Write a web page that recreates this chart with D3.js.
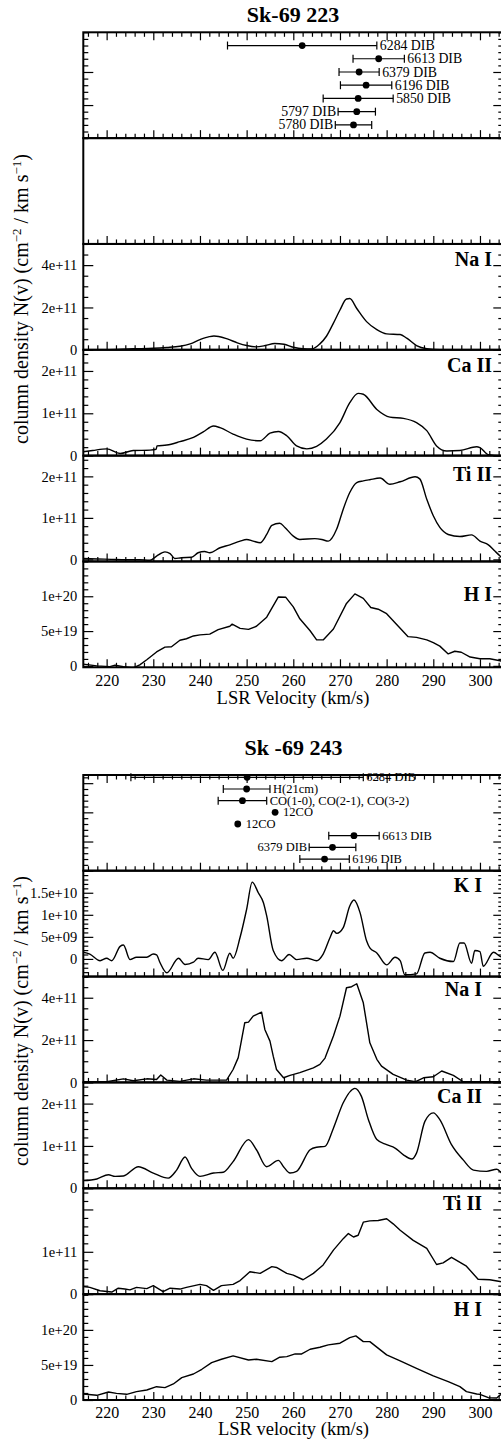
<!DOCTYPE html>
<html><head><meta charset="utf-8">
<script src="https://cdn.jsdelivr.net/npm/d3@7"></script>
<style>
html,body{margin:0;padding:0;background:#fff;}
svg{display:block;}
text{font-family:"Liberation Serif","Times New Roman",serif;fill:#000;}
</style></head><body>
<svg id="c" width="501" height="1443"></svg>
<script>
// ================= DATA =================
const velDomain = [215, 305];
const velTicks = [220, 230, 240, 250, 260, 270, 280, 290, 300];
const velTickLabels = ["220", "230", "240", "250", "260", "270", "280", "290", "300"];
const chartTitles = ["Sk-69 223", "Sk -69 243"];
const xTitles = ["LSR Velocity (km/s)", "LSR velocity (km/s)"];
const yTitleText = "column density N(v) (cm";

// Sk-69 223 DIB velocities (km/s)
const dibA_labels = ["6284 DIB", "6613 DIB", "6379 DIB", "6196 DIB", "5850 DIB", "5797 DIB", "5780 DIB"];
const dibA_row = [7, 6, 5, 4, 3, 2, 1];
const dibA_vel = [261.9, 278.3, 274.1, 275.6, 273.9, 273.6, 272.9];
const dibA_err = [16, 5.5, 4.3, 5.5, 7.5, 4, 3.9];
const dibA_side = ["r", "r", "r", "r", "r", "l", "l"];

// Sk -69 243 DIB / reference velocities
const dibB_labels = ["6284 DIB", "H(21cm)", "CO(1-0), CO(2-1), CO(3-2)", "12CO", "12CO", "6613 DIB", "6379 DIB", "6196 DIB"];
const dibB_row = [8, 7, 6, 5, 4, 3, 2, 1];
const dibB_vel = [250.1, 250.0, 249.1, 256.1, 248.1, 273.0, 268.4, 266.7];
const dibB_err = [24.9, 5, 5.2, 0, 0, 5.4, 5, 5.3];
const dibB_side = ["r", "r", "r", "r", "r", "r", "l", "r"];

// ---- Sk-69 223 profiles: [velocity km/s, N(v)] ----
// Na I, units 1e11
const naA_e11 = [[215,0],[220,0.01],[225.7,0.05],[230,0.07],[232.9,0.11],[235.7,0.17],[237.9,0.28],[240,0.48],[242,0.62],[243,0.65],[244,0.63],[246,0.5],[248,0.33],[250,0.2],[252,0.14],[254,0.2],[256,0.3],[258,0.26],[260,0.12],[262,0.05],[264,0.04],[265.7,0.28],[267.1,0.64],[268.6,1.26],[270,1.88],[271.4,2.4],[272.1,2.42],[273.6,1.95],[275.7,1.33],[277.9,0.95],[280,0.75],[282.9,0.72],[284.3,0.55],[286.4,0.2],[288.6,0.05],[291.4,0],[300,0],[305,0]];
// Ca II, units 1e11
const caA_e11 = [[215,0.09],[217,0.12],[220,0.16],[222.9,0.05],[225.7,0.12],[229.3,0.13],[230.6,0.15],[230.8,0.23],[232.9,0.25],[235.7,0.33],[238.6,0.43],[240.7,0.56],[242.9,0.7],[244.3,0.66],[247.1,0.51],[250,0.39],[252.9,0.35],[255,0.53],[256.8,0.57],[258.6,0.47],[260.7,0.23],[262.9,0.16],[265,0.22],[267.1,0.39],[270,0.78],[272.1,1.25],[273.9,1.47],[275,1.45],[277.9,1.09],[280.7,0.91],[283.6,0.88],[286.4,0.78],[288.6,0.59],[290.7,0.23],[292.9,0.11],[295.7,0.12],[299.3,0.21],[300,0.19],[301.8,0.02],[304.3,0],[305,0]];
// Ti II, units 1e11
const tiA_e11 = [[215,0.02],[218,0.01],[221,0],[224,-0.01],[227,-0.01],[229.3,-0.02],[230.7,0.08],[232.5,0.18],[233.6,0.14],[234.6,0.02],[236,0.04],[238.2,0.05],[239.6,0.16],[241,0.19],[242.1,0.16],[244.3,0.28],[246.4,0.35],[248.6,0.44],[250,0.48],[251.4,0.44],[252.9,0.4],[254.3,0.6],[255.4,0.82],[257.1,0.87],[258.2,0.77],[260,0.56],[261.4,0.48],[264.6,0.5],[266.1,0.48],[267.5,0.44],[269.3,0.73],[270.7,1.21],[272.1,1.61],[273.6,1.85],[275,1.89],[276.4,1.92],[278.6,1.96],[280.7,1.81],[282.9,1.87],[286.1,1.99],[287.1,1.94],[288.6,1.45],[290,1.05],[291.4,0.77],[293.2,0.6],[295.7,0.55],[298.2,0.59],[300,0.44],[301.8,0.35],[303.2,0.2],[304.3,0.08],[305,0]];
// H I, units 1e19
const hiA_e19 = [[215,0.25],[217.9,0],[220.7,-0.1],[221.8,0.1],[223.6,-0.1],[225.7,-0.3],[227.1,0.15],[228.6,0.88],[230.7,2.0],[232.5,2.7],[233.9,2.75],[235.7,3.68],[237.1,3.9],[238.6,4.3],[240,4.46],[242.1,4.56],[243.9,5.2],[246.4,5.69],[246.9,6.0],[248.6,5.39],[250.4,5.25],[252.1,5.69],[254.3,7.0],[256.8,9.9],[258.4,9.85],[260,8.48],[261.4,6.76],[263.6,5.05],[265,3.73],[266.4,3.73],[268.6,5.3],[271.4,8.97],[273.2,10.34],[275,9.7],[276.6,8.38],[278.2,8.14],[280,7.5],[282.5,5.69],[284.6,4.2],[286.4,4.1],[288.6,3.73],[290,3.33],[291.4,2.84],[293.2,1.72],[294.6,2.1],[296,1.96],[297.9,1.27],[300,1.03],[302.1,1.03],[304.3,0.74],[305,0.6]];

// ---- Sk -69 243 profiles ----
// K I, units 1e9
const kB_e9 = [[215,1.5],[216.4,1.1],[218.6,-0.4],[220,0.15],[221.1,-0.4],[222.9,2.85],[223.6,3.15],[225,-0.15],[226.4,0.37],[228.6,0.37],[230,1.1],[230.7,0.9],[231.4,-0.75],[232.9,-3.15],[235.4,0.15],[236.8,-1.27],[238.6,-0.75],[239.6,0.15],[241.8,-0.15],[243.2,1.5],[244.9,-2.6],[246.4,1.27],[247.1,0.15],[248.6,4.9],[250,11.25],[251.2,17.4],[252.5,15],[253.6,12.75],[254.3,9.75],[255.7,1.9],[257.5,-0.4],[259.1,1.0],[260.7,-0.15],[262.9,0.15],[265,-0.4],[266.4,1.1],[267.9,4.9],[268.6,6.4],[269.3,5.8],[270.7,7.1],[272.1,12.0],[273,13.35],[274.3,10.5],[275.7,4.1],[276.4,2.5],[277.9,1.35],[280,-1.35],[281.8,0.37],[282.9,-0.4],[283.9,-3.6],[286.4,-3.4],[288.2,1.35],[289.3,1.5],[291.4,0.15],[294.3,-0.6],[295.7,3.6],[296.6,3.6],[298.2,-1],[298.9,1.9],[300,1.65],[300.7,-1.65],[302.9,1.5],[304.3,0.6],[305,0.3]];
// Na I, units 1e11
const naB_e11 = [[215,0.03],[220,0.03],[223.6,0.17],[225.7,0.08],[228.6,0.17],[230.7,0.14],[231.6,0.35],[232.9,0.11],[235.7,0.05],[238.6,0.17],[241.4,0.11],[245.7,0.11],[247.1,0.61],[248.2,1.17],[248.9,2.0],[249.6,2.82],[250.4,2.85],[251.4,3.13],[253.2,3.32],[253.9,2.5],[255,1.95],[255.7,1.24],[256.4,0.61],[257.9,0.22],[259.3,0.33],[261.4,0.46],[264.3,0.69],[265.7,0.85],[266.8,1.15],[268.6,2.19],[270,3.13],[271.4,4.47],[272.5,4.52],[273.6,4.66],[275,3.76],[276.4,1.87],[277.9,1.09],[278.9,0.77],[281.4,0.38],[284.3,0.11],[286.1,0.03],[287.9,0.22],[290,0.27],[291.8,0.54],[294.3,0.33],[296.4,0.03],[300,0.03],[305,0.03]];
// Ca II, units 1e11
const caB_e11 = [[215,0.18],[217.9,0.22],[220.4,0.32],[221.8,0.28],[223.6,0.29],[226.8,0.51],[230,0.36],[233.2,0.24],[235,0.43],[236.8,0.74],[238.2,0.47],[240,0.28],[242.9,0.36],[245,0.38],[247.1,0.63],[250.4,1.15],[252.1,0.91],[254.3,0.51],[256.8,0.66],[257.9,0.51],[259.3,0.36],[260.7,0.4],[263.6,0.91],[265,0.97],[266.8,0.99],[268.6,1.42],[270.7,2.02],[273.2,2.36],[274.6,2.17],[276.1,1.62],[277.9,1.15],[280,1.03],[281.8,0.95],[283.6,0.79],[285.4,0.69],[286.4,0.83],[288.2,1.58],[290,1.78],[291.4,1.62],[293.9,1.03],[296.4,0.67],[298.6,0.43],[301.4,0.4],[303.6,0.45],[305,0.3]];
// Ti II, units 1e11
const tiB_e11 = [[215,0.18],[216.4,0.16],[218.6,0.08],[221.1,0.05],[222.5,0.14],[223.9,0.12],[225,0.1],[226.4,0.16],[228.6,0.13],[230,0.2],[232.1,0.06],[233.6,0.14],[235.7,0.12],[237.1,0.16],[240,0.23],[241.4,0.2],[242.9,0.09],[244.6,0.2],[247.1,0.23],[248.6,0.32],[250.7,0.53],[252.9,0.49],[255.4,0.65],[256.4,0.63],[258.6,0.49],[260,0.45],[262.1,0.34],[264.3,0.49],[266.4,0.69],[268.6,1.04],[270.7,1.31],[271.8,1.43],[272.9,1.35],[273.9,1.39],[275,1.7],[276.4,1.73],[278.2,1.74],[280,1.78],[281.4,1.66],[282.9,1.51],[285.7,1.27],[288.6,1.08],[290.7,0.7],[292.1,0.74],[293.9,0.87],[297.1,0.66],[299.6,0.35],[302.1,0.34],[304.3,0.3],[305,0.28]];
// H I, units 1e19
const hiB_e19 = [[215,0.86],[217.9,0.67],[220.4,1.14],[222.1,0.95],[224.3,0.81],[226.4,1.19],[228.6,1.43],[230.7,1.9],[232.5,1.76],[234.3,2.29],[236.1,3.19],[238.6,3.71],[240.4,4.38],[242.5,5.33],[244.6,5.81],[247.1,6.29],[250.4,5.71],[252.1,5.81],[255.4,5.48],[257.1,6.1],[258.6,6.19],[260.4,6.57],[261.8,6.57],[263.6,7.24],[265.7,7.52],[267.5,7.86],[270,8.1],[272.1,8.9],[273.4,9.14],[275,8.33],[276.4,8.33],[280,6.43],[282.9,5.57],[286.4,4.52],[290,3.43],[293.2,2.62],[295.7,1.9],[297.1,1.19],[299.3,0.86],[300,0.81],[301.8,0.33],[303.6,0.29],[304.3,0.71],[305,0.8]];

// y tick values (in the units of each array) and labels
const naTicks = [0, 2, 4], naTickLabels = ["0", "2e+11", "4e+11"];
const caTicks = [0, 1, 2], caTickLabels = ["0", "1e+11", "2e+11"];
const tiTicksA = [0, 1, 2], tiTickLabelsA = ["0", "1e+11", "2e+11"];
const tiTicksB = [0, 1, 2], tiTickLabelsB = ["0", "1e+11", ""];
const hiTicks = [0, 5, 10], hiTickLabels = ["0", "5e+19", "1e+20"];
const kTicks = [0, 5, 10, 15, 20], kTickLabels = ["0", "5e+09", "1e+10", "1.5e+10", ""];
const speciesA = ["Na I", "Ca II", "Ti II", "H I"];
const speciesB = ["K I", "Na I", "Ca II", "Ti II", "H I"];

// ================= DRAWING =================
const svg = d3.select("#c");
const FONT = "'Liberation Serif','Times New Roman',serif";
const x = d3.scaleLinear().domain(velDomain).range([83.3, 503.3]);
const X0 = x.range()[0], X1 = x.range()[1];
let clipN = 0;

function stepValues(d0, d1, step, exclude) {
  const out = [];
  const a = Math.ceil(d0 / step - 1e-9), b = Math.floor(d1 / step + 1e-9);
  for (let i = a; i <= b; i++) {
    const v = +(i * step).toFixed(6);
    if (!exclude.some(e => Math.abs(e - v) < 1e-6)) out.push(v);
  }
  return out;
}
function styleAxis(g) {
  g.select(".domain").remove();
  g.attr("font-family", FONT).attr("font-size", null);
  g.selectAll("line").attr("stroke", "#000").attr("stroke-width", 1.2);
  g.selectAll("text").attr("fill", "#000");
}

function xTicks(top, h, withTop, withLabels) {
  const majors = velTicks;
  const minors = stepValues(velDomain[0], velDomain[1], 2, majors);
  const gb = svg.append("g").attr("transform", `translate(0,${top + h})`);
  gb.call(d3.axisBottom(x).tickValues(majors).tickSize(-8).tickPadding(7)
    .tickFormat((d, i) => withLabels ? velTickLabels[i] : ""));
  styleAxis(gb);
  gb.selectAll("text").style("font-size", "16px");
  const gbm = svg.append("g").attr("transform", `translate(0,${top + h})`);
  gbm.call(d3.axisBottom(x).tickValues(minors).tickSize(-4.5).tickFormat(""));
  styleAxis(gbm);
  if (withTop) {
    const gt = svg.append("g").attr("transform", `translate(0,${top})`);
    gt.call(d3.axisTop(x).tickValues(majors).tickSize(-8).tickFormat(""));
    styleAxis(gt);
    const gtm = svg.append("g").attr("transform", `translate(0,${top})`);
    gtm.call(d3.axisTop(x).tickValues(minors).tickSize(-4.5).tickFormat(""));
    styleAxis(gtm);
  }
}

function yTicks(y, majors, labels, minorStep) {
  const dom = y.domain();
  const majIn = majors.filter(v => v >= dom[0] - 1e-9 && v <= dom[1] + 1e-9);
  const minors = stepValues(dom[0], dom[1], minorStep, majIn);
  const gl = svg.append("g").attr("transform", `translate(${X0},0)`);
  gl.call(d3.axisLeft(y).tickValues(majIn).tickSize(-10).tickPadding(6)
    .tickFormat(d => { const i = majors.indexOf(d); return labels && i >= 0 ? labels[i] : ""; }));
  styleAxis(gl);
  gl.selectAll("text").style("font-size", "14.5px");
  const glm = svg.append("g").attr("transform", `translate(${X0},0)`);
  glm.call(d3.axisLeft(y).tickValues(minors).tickSize(-5).tickFormat(""));
  styleAxis(glm);
  const gr = svg.append("g").attr("transform", `translate(${X1},0)`);
  gr.call(d3.axisRight(y).tickValues(majIn).tickSize(-10).tickFormat(""));
  styleAxis(gr);
  const grm = svg.append("g").attr("transform", `translate(${X1},0)`);
  grm.call(d3.axisRight(y).tickValues(minors).tickSize(-5).tickFormat(""));
  styleAxis(grm);
}

function frame(top, h) {
  svg.append("rect").attr("x", X0).attr("y", top).attr("width", X1 - X0).attr("height", h)
    .attr("fill", "none").attr("stroke", "#000").attr("stroke-width", 2);
}

function curvePanel(p) {
  const y = d3.scaleLinear().domain(p.domain).range([p.top + p.h, p.top]);
  const id = "clip" + (clipN++);
  svg.append("clipPath").attr("id", id).append("rect")
    .attr("x", X0).attr("y", p.top).attr("width", X1 - X0).attr("height", p.h);
  svg.append("path").datum(p.data).attr("clip-path", `url(#${id})`)
    .attr("fill", "none").attr("stroke", "#000").attr("stroke-width", 1.4)
    .attr("stroke-linejoin", "round")
    .attr("d", d3.line().x(d => x(d[0])).y(d => y(d[1])).curve(p.curve || d3.curveLinear));
  yTicks(y, p.ticks, p.labels, p.minor);
  xTicks(p.top, p.h, false, p.bottom);
  frame(p.top, p.h);
  svg.append("text").attr("x", p.labelX).attr("y", p.top + p.labelDy)
    .attr("text-anchor", "end").style("font-size", "20px").style("font-weight", "bold")
    .text(p.label);
}

function dibPanel(p) {
  const y = d3.scaleLinear().domain(p.domain).range([p.top + p.h, p.top]);
  yTicks(y, p.majors, null, 0.5);
  xTicks(p.top, p.h, true, false);
  frame(p.top, p.h);
  const g = svg.append("g");
  p.vel.forEach((v, i) => {
    const yy = y(p.row[i]);
    const e = p.err[i];
    if (e > 0) {
      const xa = x(v - e), xb = x(v + e);
      g.append("line").attr("x1", xa).attr("x2", xb).attr("y1", yy).attr("y2", yy)
        .attr("stroke", "#000").attr("stroke-width", 1.2);
      [xa, xb].forEach(xx => g.append("line").attr("x1", xx).attr("x2", xx)
        .attr("y1", yy - 4).attr("y2", yy + 4).attr("stroke", "#000").attr("stroke-width", 1.2));
    }
    g.append("circle").attr("cx", x(v)).attr("cy", yy).attr("r", 3.4).attr("fill", "#000");
    const right = p.side[i] === "r";
    let tx;
    if (e > 0) tx = right ? x(v + e) + 3 : x(v - e) - 2;
    else tx = right ? x(v) + 8 : x(v) - 8;
    g.append("text").attr("x", tx).attr("y", yy).attr("dy", "0.33em")
      .attr("text-anchor", right ? "start" : "end").style("font-size", p.fontSize).text(p.labels[i]);
  });
}

function emptyPanel(top, h) {
  xTicks(top, h, false, false);
  frame(top, h);
}

function titles(cx, titleY, title, xTitle, xTitleY) {
  svg.append("text").attr("x", cx).attr("y", titleY).attr("text-anchor", "middle")
    .style("font-size", "22px").style("font-weight", "bold").text(title);
  svg.append("text").attr("x", cx).attr("y", xTitleY).attr("text-anchor", "middle")
    .style("font-size", "18.5px").text(xTitle);
}
function yTitle(cx, cy) {
  const t = svg.append("text").attr("transform", `translate(${cx},${cy}) rotate(-90)`)
    .attr("text-anchor", "middle").style("font-size", "20px");
  t.append("tspan").text(yTitleText);
  t.append("tspan").attr("dy", -7).style("font-size", "13px").text("\u22122");
  t.append("tspan").attr("dy", 7).text(" / km s");
  t.append("tspan").attr("dy", -7).style("font-size", "13px").text("\u22121");
  t.append("tspan").attr("dy", 7).text(")");
}

// ---------- Chart A: Sk-69 223 ----------
const A_top = 32.3, A_h = 105.83;
dibPanel({top: A_top, h: A_h, domain: [0, 8], row: dibA_row, vel: dibA_vel, err: dibA_err,
  side: dibA_side, labels: dibA_labels, majors: [2.5, 5], fontSize: "13.8px"});
emptyPanel(A_top + A_h, A_h);
const smooth = d3.curveMonotoneX;
curvePanel({top: A_top + 2 * A_h, h: A_h, domain: [0, 5], data: naA_e11, curve: smooth,
  ticks: naTicks, labels: naTickLabels, minor: 0.5, label: speciesA[0], labelX: 492, labelDy: 22.4});
curvePanel({top: A_top + 3 * A_h, h: A_h, domain: [0, 2.5], data: caA_e11, curve: smooth,
  ticks: caTicks, labels: caTickLabels, minor: 0.2, label: speciesA[1], labelX: 492, labelDy: 22.5});
curvePanel({top: A_top + 4 * A_h, h: A_h, domain: [-0.05, 2.5], data: tiA_e11, curve: smooth,
  ticks: tiTicksA, labels: tiTickLabelsA, minor: 0.2, label: speciesA[2], labelX: 492, labelDy: 25});
curvePanel({top: A_top + 5 * A_h, h: A_h, domain: [-0.2, 15], data: hiA_e19,
  ticks: hiTicks, labels: hiTickLabels, minor: 1, label: speciesA[3], labelX: 492, labelDy: 40, bottom: true});
titles(293, 21.7, chartTitles[0], xTitles[0], 704);
yTitle(28, 299);

// ---------- Chart B: Sk -69 243 ----------
const B_dibTop = 775, B_dibH = 95.7, B_top = B_dibTop + B_dibH, B_h = 105.86;
dibPanel({top: B_dibTop, h: B_dibH, domain: [0, 8.2], row: dibB_row, vel: dibB_vel, err: dibB_err,
  side: dibB_side, labels: dibB_labels, majors: [2.5, 5, 7.5], fontSize: "12.5px"});
curvePanel({top: B_top, h: B_h, domain: [-4, 20], data: kB_e9, curve: smooth,
  ticks: kTicks, labels: kTickLabels, minor: 1, label: speciesB[0], labelX: 482, labelDy: 21});
curvePanel({top: B_top + B_h, h: B_h, domain: [0, 5], data: naB_e11,
  ticks: naTicks, labels: naTickLabels, minor: 0.5, label: speciesB[1], labelX: 482, labelDy: 19});
curvePanel({top: B_top + 2 * B_h, h: B_h, domain: [0, 2.5], data: caB_e11, curve: smooth,
  ticks: caTicks, labels: caTickLabels, minor: 0.2, label: speciesB[2], labelX: 482, labelDy: 20.5});
curvePanel({top: B_top + 3 * B_h, h: B_h, domain: [0, 2.5], data: tiB_e11,
  ticks: tiTicksB, labels: tiTickLabelsB, minor: 0.2, label: speciesB[3], labelX: 482, labelDy: 22});
curvePanel({top: B_top + 4 * B_h, h: B_h, domain: [0, 15.1], data: hiB_e19,
  ticks: hiTicks, labels: hiTickLabels, minor: 1, label: speciesB[4], labelX: 482, labelDy: 22, bottom: true});
titles(293.5, 755, chartTitles[1], xTitles[1], 1435);
yTitle(28, 1021);
</script>
</body></html>
